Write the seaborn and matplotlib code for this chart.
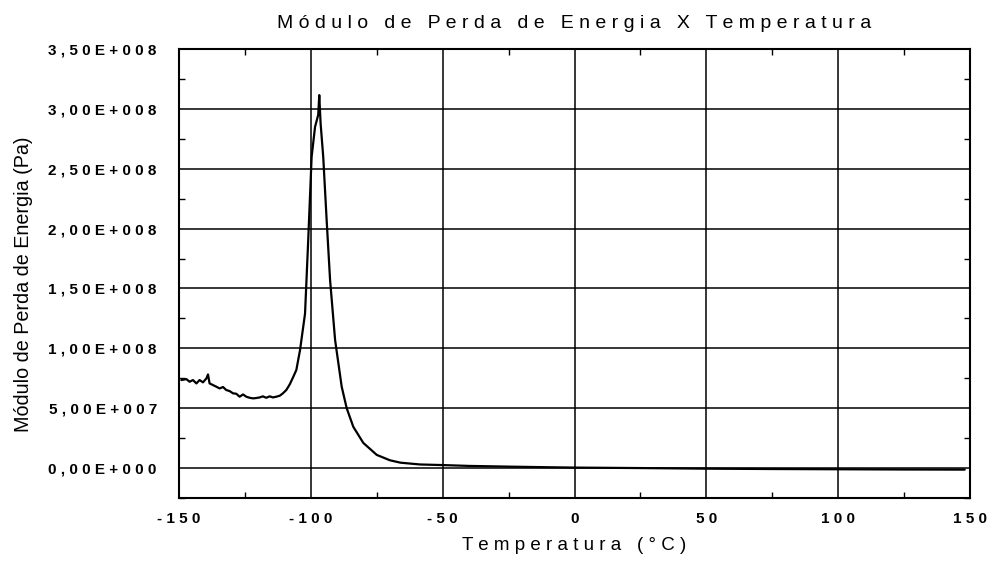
import matplotlib
matplotlib.use("Agg")
import matplotlib.pyplot as plt
import seaborn as sns
import pandas as pd
from matplotlib.ticker import MultipleLocator, FixedLocator

temperatura = [
    -149.1, -147.2, -146.0, -144.7, -143.4, -142.2, -140.9, -139.6, -139.0, -138.4,
    -137.1, -135.8, -134.6, -133.3, -132.1, -130.8, -129.5, -128.3, -127.0, -125.7,
    -124.5, -123.2, -121.9, -120.7, -119.4, -118.2, -116.9, -115.6, -114.4, -113.1,
    -111.8, -110.6, -109.3, -108.0, -106.8, -105.5, -104.1, -102.2, -101.0, -99.7,
    -98.4, -97.2, -96.8, -96.3, -95.3, -94.0, -92.7, -90.8, -88.3, -86.4,
    -83.9, -80.1, -75.0, -70.0, -66.0, -58.6, -50.0, -40.0, -25.0, -10.0,
    0.0, 25.0, 50.0, 75.0, 100.0, 125.0, 148.0,
]
modulo_perda = [
    7.35e7, 7.43e7, 7.21e7, 7.35e7, 7.07e7, 7.35e7, 7.16e7, 7.49e7, 7.82e7, 7.07e7,
    6.93e7, 6.79e7, 6.65e7, 6.77e7, 6.52e7, 6.43e7, 6.24e7, 6.21e7, 5.96e7, 6.15e7,
    5.96e7, 5.87e7, 5.82e7, 5.85e7, 5.90e7, 5.99e7, 5.87e7, 5.99e7, 5.90e7, 5.96e7,
    6.04e7, 6.24e7, 6.52e7, 6.99e7, 7.55e7, 8.19e7, 9.85e7, 1.29e8, 1.90e8, 2.60e8,
    2.85e8, 2.95e8, 3.115e8, 2.88e8, 2.60e8, 2.07e8, 1.57e8, 1.07e8, 6.8e7, 5.0e7,
    3.45e7, 2.1e7, 1.1e7, 6.5e6, 4.5e6, 3.0e6, 2.5e6, 1.8e6, 1.2e6, 0.7e6,
    0.4e6, 0.0, -0.5e6, -0.8e6, -1.0e6, -1.2e6, -1.3e6,
]

x_ticks = [-150, -100, -50, 0, 50, 100, 150]
x_tick_labels = ["-150", "-100", "-50", "0", "50", "100", "150"]
y_ticks = [0, 5e7, 1e8, 1.5e8, 2e8, 2.5e8, 3e8, 3.5e8]
y_tick_labels = ["0,00E+000", "5,00E+007", "1,00E+008", "1,50E+008",
                 "2,00E+008", "2,50E+008", "3,00E+008", "3,50E+008"]

title = "Módulo de Perda de Energia X Temperatura"
x_label = "Temperatura (°C)"
y_label = "Módulo de Perda de Energia (Pa)"


def spaced(s):
    return " ".join(s)


sns.set_theme(style="white")
plt.rcParams["font.family"] = ["Liberation Sans", "DejaVu Sans"]

df = pd.DataFrame({"T": temperatura, "E": modulo_perda})

fig = plt.figure(figsize=(9.93, 5.65), dpi=100)
ax = fig.add_axes([179/993, 1 - 498/565, (970 - 179)/993, (498 - 49)/565])

sns.lineplot(data=df, x="T", y="E", ax=ax, color="black", linewidth=1.6,
             sort=False, estimator=None)

ax.set_xlim(-150, 150)
ax.set_ylim(-2.5e7, 3.5e8)

ax.xaxis.set_major_locator(FixedLocator(x_ticks))
ax.yaxis.set_major_locator(FixedLocator(y_ticks))
ax.xaxis.set_minor_locator(MultipleLocator(25))
ax.yaxis.set_minor_locator(MultipleLocator(2.5e7))
ax.set_xticklabels([spaced(s) for s in x_tick_labels], fontsize=11,
                   fontweight="bold", color="black")
ax.set_yticklabels([spaced(s) for s in y_tick_labels], fontsize=11,
                   fontweight="bold", color="black")

ax.grid(True, which="major", color="black", linewidth=1.1)
ax.tick_params(which="major", length=0)
ax.tick_params(axis="x", which="major", pad=10)
ax.tick_params(axis="y", which="major", pad=16)
ax.tick_params(which="minor", direction="in", length=4, width=1, color="black",
               top=True, bottom=True, left=True, right=True)

for sp in ax.spines.values():
    sp.set_visible(True)
    sp.set_color("black")
    sp.set_linewidth(1.5)

ax.set_xlabel(spaced(x_label), fontsize=13.5, color="black", labelpad=8)
ax.set_ylabel(y_label, fontsize=14.2, color="black")
ax.yaxis.set_label_coords(-0.1846, 0.4766)
ax.set_title(spaced(title), fontsize=14, color="black", pad=15)

fig.savefig("out.png", dpi=100)
